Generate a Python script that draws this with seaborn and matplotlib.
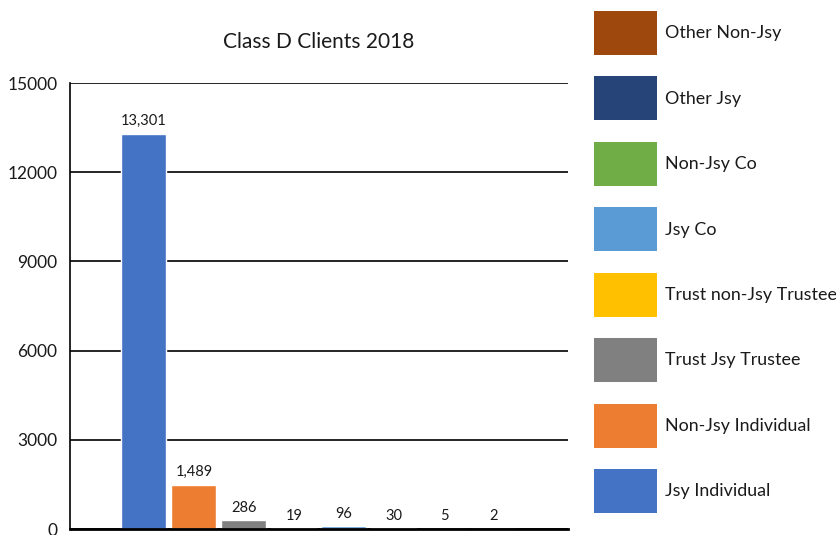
import matplotlib
matplotlib.use('Agg')
import matplotlib.pyplot as plt
from matplotlib.patches import Patch
import seaborn as sns
import pandas as pd

# 数据
categories = ['Jsy Individual', 'Non-Jsy Individual', 'Trust Jsy Trustee', 'Trust non-Jsy Trustee',
              'Jsy Co', 'Non-Jsy Co', 'Other Jsy', 'Other Non-Jsy']
clients = [13301, 1489, 286, 19, 96, 30, 5, 2]
colors = ['#4472C4', '#ED7D31', '#808080', '#FFC000', '#5B9BD5', '#70AD47', '#264478', '#9E480E']
y_ticks = [0, 3000, 6000, 9000, 12000, 15000]

df = pd.DataFrame({'category': categories, 'clients': clients})

sns.set_style('white')
plt.rcParams['font.family'] = ['Lato', 'DejaVu Sans']
text_color = '#1a1a1a'

fig = plt.figure(figsize=(8.37, 5.35), dpi=100)
ax = fig.add_axes([70 / 837, 6 / 535, 498 / 837, 446 / 535])

sns.barplot(data=df, x='category', y='clients', hue='category', order=categories,
            hue_order=categories, palette=colors, width=0.9, dodge=False,
            legend=False, saturation=1, ax=ax)

# 柱顶数值标签
for cont, val in zip(ax.containers, clients):
    ax.bar_label(cont, labels=[f'{val:,}'], padding=4, fontsize=10.5, color=text_color)

# 坐标轴与网格
ax.set_ylim(0, 15000)
ax.set_xlim(-1.48, 8.48)
ax.set_yticks(y_ticks)
ax.set_xticks([])
ax.set_xlabel('')
ax.set_ylabel('')
ax.yaxis.grid(True, color='black', linewidth=1.2)
ax.set_axisbelow(True)
ax.tick_params(axis='y', length=0, pad=9, labelsize=12.5, labelcolor=text_color)
for side in ['top', 'right']:
    ax.spines[side].set_visible(False)
ax.spines['left'].set_color('black')
ax.spines['left'].set_linewidth(1.2)
ax.spines['bottom'].set_color('black')
ax.spines['bottom'].set_linewidth(2)

ax.set_title('Class D Clients 2018', fontsize=15, color=text_color, pad=25)

# 图例（倒序）
handles = [Patch(facecolor=c, edgecolor='none', label=l) for c, l in zip(colors, categories)]
fig.legend(handles=handles[::-1], loc='upper left', bbox_to_anchor=(594 / 837, 1 - 11 / 535),
           frameon=False, fontsize=12.9, handlelength=3.52, handleheight=3.4,
           handletextpad=0.45, labelspacing=1.2, borderpad=0, borderaxespad=0,
           labelcolor=text_color)

plt.savefig('out.png', dpi=100)
